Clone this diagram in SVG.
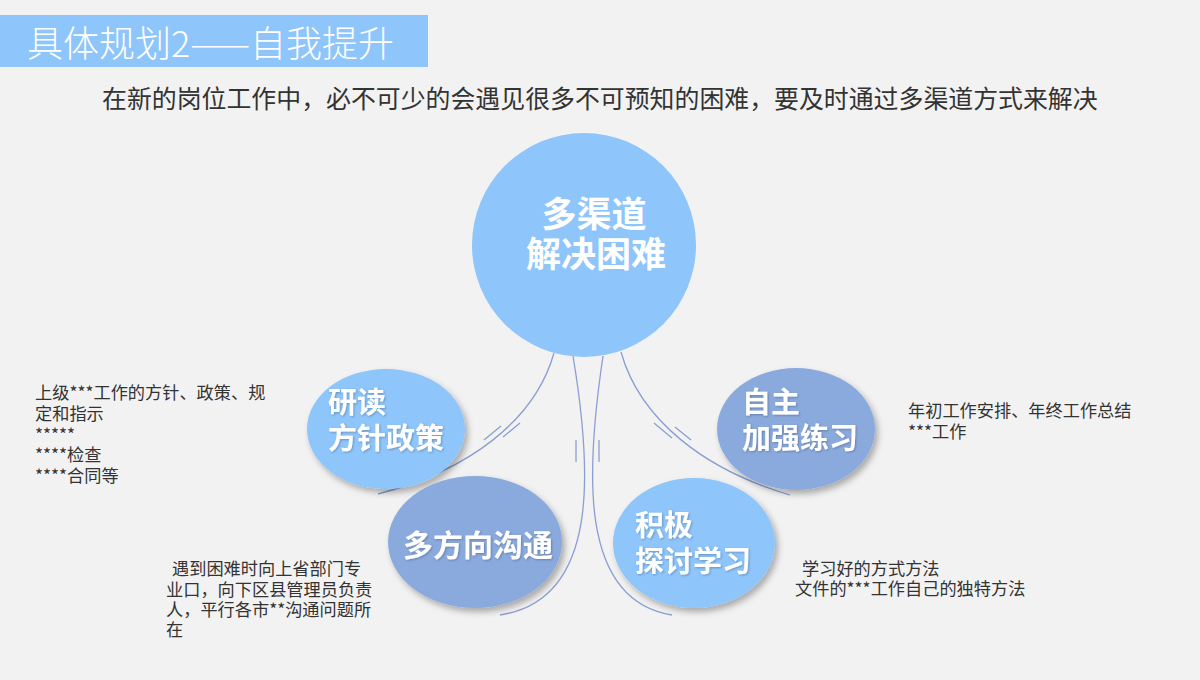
<svg xmlns="http://www.w3.org/2000/svg" width="1200" height="680" viewBox="0 0 1200 680">
  <defs>
    <filter id="sh" x="-20%" y="-20%" width="150%" height="150%">
      <feDropShadow dx="3" dy="4" stdDeviation="3" flood-color="#000" flood-opacity="0.3"/>
    </filter>
    <filter id="tsh" x="-10%" y="-10%" width="130%" height="130%">
      <feDropShadow dx="1" dy="1" stdDeviation="1" flood-color="#000" flood-opacity="0.25"/>
    </filter>
  </defs>
  <style>
    .light { fill: #8EC5FB; }
    .dark { fill: #8AAADE; }
    .node-text { font-family: "Noto Sans CJK SC", "Noto Sans", sans-serif; font-weight: bold; fill: #ffffff; }
    .desc { font-family: "Noto Sans CJK SC", "Noto Sans", sans-serif; font-size: 17.2px; fill: #333333; }
    .conn { fill: none; stroke: #8A9ED0; stroke-width: 1.3; }
  </style>
  <rect x="0" y="0" width="1200" height="680" fill="#F2F2F2"/>

  <g id="title">
    <rect x="0" y="15" width="428" height="52" fill="#8EC5FB"/>
    <text x="27" y="57" font-family="Noto Sans CJK SC, Noto Sans, sans-serif" font-size="36" font-weight="300" fill="#ffffff">具体规划2——自我提升</text>
  </g>

  <g id="subtitle">
    <text x="102" y="108" font-family="Noto Sans CJK SC, Noto Sans, sans-serif" font-size="24.9" fill="#333333">在新的岗位工作中，必不可少的会遇见很多不可预知的困难，要及时通过多渠道方式来解决</text>
  </g>

  <g id="connectors">
    <path class="conn" d="M554,353 C535,420 470,470 378,494"/>
    <path class="conn" d="M621,352 C640,420 705,470 790,495"/>
    <path class="conn" d="M573,356 C592,470 600,600 500,615"/>
    <path class="conn" d="M603,356 C586,470 578,600 672,615"/>
    <path class="conn" d="M484,440 L501,426"/>
    <path class="conn" d="M503,437 L520,423"/>
    <path class="conn" d="M576,440 L576,462"/>
    <path class="conn" d="M599,440 L599,462"/>
    <path class="conn" d="M654,423 L672,438"/>
    <path class="conn" d="M675,427 L691,440"/>
  </g>

  <g id="center">
    <circle cx="584" cy="245" r="112" class="light"/>
    <text class="node-text" font-size="35" x="594" y="227" text-anchor="middle">多渠道</text>
    <text class="node-text" font-size="35" x="596" y="267" text-anchor="middle">解决困难</text>
  </g>

  <g id="node-yandu">
    <ellipse cx="386" cy="429" rx="79" ry="60" class="light" filter="url(#sh)"/>
    <text class="node-text" font-size="29" x="328" y="413" filter="url(#tsh)">研读</text>
    <text class="node-text" font-size="29" x="328" y="449" filter="url(#tsh)">方针政策</text>
  </g>

  <g id="node-goutong">
    <ellipse cx="475" cy="542" rx="87" ry="66" class="dark" filter="url(#sh)"/>
    <text class="node-text" font-size="30" x="403" y="556" filter="url(#tsh)">多方向沟通</text>
  </g>

  <g id="node-zizhu">
    <ellipse cx="796" cy="429" rx="79" ry="61" class="dark" filter="url(#sh)"/>
    <text class="node-text" font-size="29" x="742" y="413" filter="url(#tsh)">自主</text>
    <text class="node-text" font-size="29" x="742" y="449" filter="url(#tsh)">加强练习</text>
  </g>

  <g id="node-jiji">
    <ellipse cx="694" cy="543" rx="81" ry="65" class="light" filter="url(#sh)"/>
    <text class="node-text" font-size="29" x="635" y="536" filter="url(#tsh)">积极</text>
    <text class="node-text" font-size="29" x="635" y="572" filter="url(#tsh)">探讨学习</text>
  </g>

  <g id="desc-yandu">
    <text class="desc" x="35" y="399">上级***工作的方针、政策、规</text>
    <text class="desc" x="35" y="420">定和指示</text>
    <text class="desc" x="35" y="441">*****</text>
    <text class="desc" x="35" y="461">****检查</text>
    <text class="desc" x="35" y="482">****合同等</text>
  </g>

  <g id="desc-goutong">
    <text class="desc" x="172" y="575">遇到困难时向上省部门专</text>
    <text class="desc" x="166" y="596">业口，向下区县管理员负责</text>
    <text class="desc" x="166" y="616">人，平行各市**沟通问题所</text>
    <text class="desc" x="166" y="636">在</text>
  </g>

  <g id="desc-zizhu">
    <text class="desc" x="908" y="417">年初工作安排、年终工作总结</text>
    <text class="desc" x="908" y="438">***工作</text>
  </g>

  <g id="desc-jiji">
    <text class="desc" x="802" y="575">学习好的方式方法</text>
    <text class="desc" x="795" y="595">文件的***工作自己的独特方法</text>
  </g>
</svg>
